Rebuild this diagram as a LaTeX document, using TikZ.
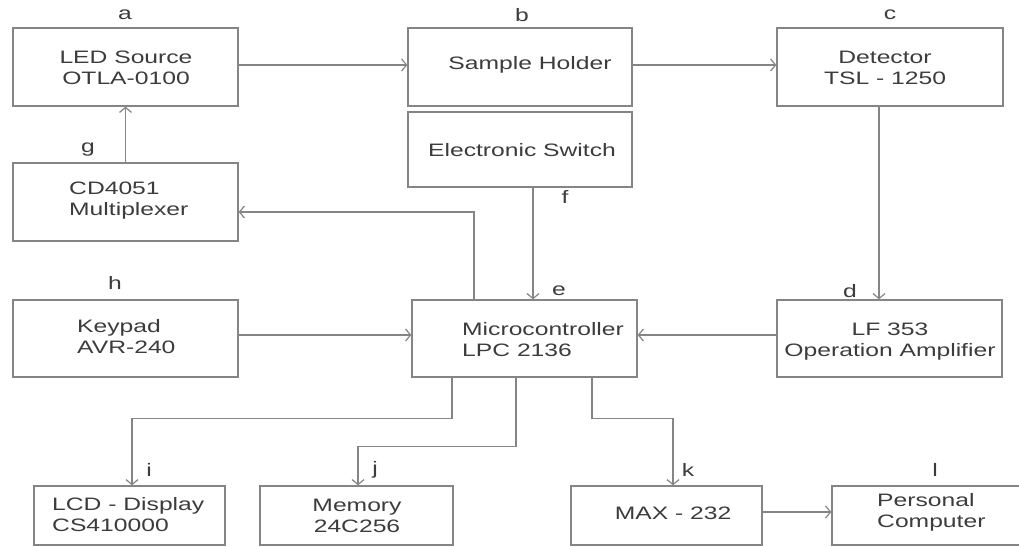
\documentclass[tikz,border=0pt]{standalone}
\usepackage{fontspec}
\setmainfont[FakeStretch=1.37]{Liberation Sans}
\usetikzlibrary{arrows.meta}
\definecolor{linegray}{HTML}{858585}
\definecolor{textgray}{HTML}{3C3C3C}
\begin{document}
\begin{tikzpicture}[x=1pt,y=-1pt,
  box/.style={draw=linegray, line width=1.3pt, rectangle, inner sep=0pt},
  txt/.style={text=textgray, font=\fontsize{18}{21}\selectfont, inner sep=0pt},
  lbl/.style={text=textgray, font=\fontsize{18}{21}\selectfont, inner sep=0pt},
  arr/.style={draw=linegray, line width=1.2pt, -{Straight Barb[length=5pt,width=12pt]}}]
\clip (0,0) rectangle (1019,546);
\fill[white] (0,0) rectangle (1019,546);
% boxes
\node[box, minimum width=225pt, minimum height=78pt] (a) at (125.5,67) {};
\node[box, minimum width=224pt, minimum height=78pt] (b) at (520,67) {};
\node[box, minimum width=226pt, minimum height=78pt] (c) at (890,67) {};
\node[box, minimum width=224pt, minimum height=75pt] (sw) at (520,149.5) {};
\node[box, minimum width=225pt, minimum height=78pt] (g) at (125.5,202) {};
\node[box, minimum width=225pt, minimum height=77pt] (h) at (125.5,338.5) {};
\node[box, minimum width=225pt, minimum height=77pt] (e) at (524.5,338.5) {};
\node[box, minimum width=225pt, minimum height=77pt] (d) at (889.5,338.5) {};
\node[box, minimum width=191pt, minimum height=59pt] (i) at (129.5,515.5) {};
\node[box, minimum width=193pt, minimum height=59pt] (j) at (356.5,515.5) {};
\node[box, minimum width=191pt, minimum height=59pt] (k) at (666.5,515.5) {};
\node[box, minimum width=200pt, minimum height=59pt] (l) at (932,515.5) {};
% texts
\node[txt, align=center] (ta) at (126,68) {LED Source\\OTLA-0100};
\node[txt] (tb) at (530,65) {Sample Holder};
\node[txt] (tsw) at (522,150) {Electronic Switch};
\node[txt, align=center] (tc) at (885,68) {Detector\\TSL - 1250};
\node[txt, align=left, anchor=west] (tg) at (69,201) {CD4051\\Multiplexer};
\node[txt, align=left, anchor=west] (th) at (77,337) {Keypad\\AVR-240};
\node[txt, align=left, anchor=west] (te) at (462,340) {Microcontroller\\LPC 2136};
\node[txt, align=center] (td) at (890,342) {LF 353\\Operation Amplifier};
\node[txt, align=left, anchor=west] (ti) at (52,515) {LCD - Display\\CS410000};
\node[txt, align=center] (tj) at (357,516) {Memory\\24C256};
\node[txt] (tk) at (673,513) {MAX - 232};
\node[txt, align=left, anchor=west] (tl) at (877,512) {Personal\\Computer};
% letter labels
\node[lbl] (la) at (125,15) {a};
\node[lbl] (lb) at (522,15) {b};
\node[lbl] (lc) at (890,15) {c};
\node[lbl] (lg) at (88,150) {g};
\node[lbl] (lf) at (565,197) {f};
\node[lbl] (le) at (559,291) {e};
\node[lbl] (ld) at (850,291) {d};
\node[lbl] (lh) at (115,283) {h};
\node[lbl] (li) at (149,470) {i};
\node[lbl] (lj) at (375,470) {j};
\node[lbl] (lk) at (688,470) {k};
\node[lbl] (ll) at (935,470) {l};
% connectors
\draw[arr] ([yshift=2pt]a.east) -- ([yshift=2pt]a.east -| b.west);
\draw[arr] ([yshift=2pt]b.east) -- ([yshift=2pt]b.east -| c.west);
\draw[arr] ([xshift=-11pt]c.south) -- ([xshift=-11pt]c.south |- d.north);
\draw[arr] ([xshift=13pt]sw.south) -- ([xshift=13pt]sw.south |- e.north);
\draw[arr] ([xshift=-50.5pt]e.north) |- ([yshift=-10pt]g.east);
\draw[arr] (g) -- (a);
\draw[arr] ([yshift=3.5pt]h.east) -- ([yshift=3.5pt]h.east -| e.west);
\draw[arr] ([yshift=3.5pt]d.west) -- ([yshift=3.5pt]d.west -| e.east);
\draw[arr] ([xshift=-72.5pt]e.south) -- ++(0,41) -| ([xshift=2.5pt]i.north);
\draw[arr] ([xshift=-8.5pt]e.south) -- ++(0,69) -| ([xshift=1.5pt]j.north);
\draw[arr] ([xshift=67.5pt]e.south) -- ++(0,41) -| ([xshift=6.5pt]k.north);
\draw[arr] ([yshift=3.5pt]k.east) -- ([yshift=3.5pt]k.east -| l.west);
\end{tikzpicture}
\end{document}
